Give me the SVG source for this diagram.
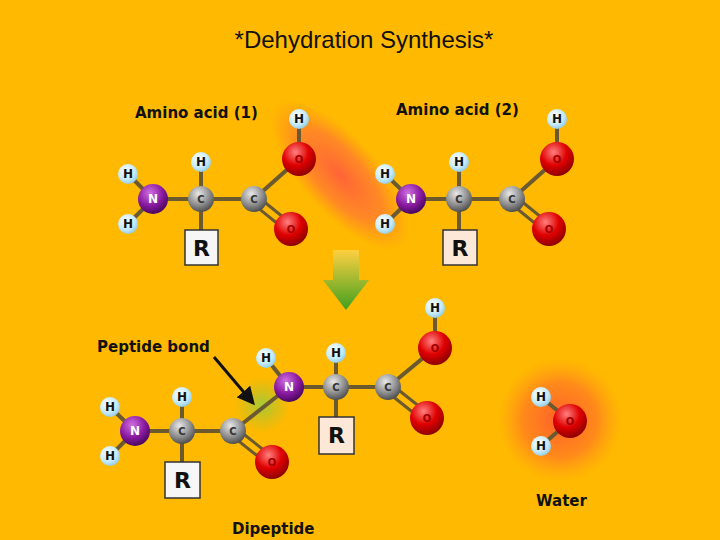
<svg xmlns="http://www.w3.org/2000/svg" width="720" height="540" viewBox="0 0 720 540">
<defs>
<radialGradient id="gH" cx="0.4" cy="0.35" r="0.7"><stop offset="0" stop-color="#ffffff"/><stop offset="0.6" stop-color="#c8ecfa"/><stop offset="1" stop-color="#8cc8e0"/></radialGradient>
<radialGradient id="gN" cx="0.4" cy="0.3" r="0.7"><stop offset="0" stop-color="#d070e0"/><stop offset="0.6" stop-color="#8a1aa0"/><stop offset="1" stop-color="#4a0860"/></radialGradient>
<radialGradient id="gC" cx="0.4" cy="0.3" r="0.7"><stop offset="0" stop-color="#e8e8e8"/><stop offset="0.6" stop-color="#909090"/><stop offset="1" stop-color="#505050"/></radialGradient>
<radialGradient id="gO" cx="0.4" cy="0.3" r="0.7"><stop offset="0" stop-color="#ff8080"/><stop offset="0.55" stop-color="#e00000"/><stop offset="1" stop-color="#900000"/></radialGradient>
<radialGradient id="glowR"><stop offset="0" stop-color="#ff5a3c" stop-opacity="0.9"/><stop offset="0.6" stop-color="#ff6a3c" stop-opacity="0.6"/><stop offset="1" stop-color="#ff7a30" stop-opacity="0"/></radialGradient>
<radialGradient id="glowW"><stop offset="0" stop-color="#ff5a2c" stop-opacity="0.95"/><stop offset="0.6" stop-color="#ff6a2c" stop-opacity="0.6"/><stop offset="1" stop-color="#ff8a20" stop-opacity="0"/></radialGradient>
<radialGradient id="glowG"><stop offset="0" stop-color="#9ccc3c" stop-opacity="0.9"/><stop offset="1" stop-color="#b0c030" stop-opacity="0"/></radialGradient>
<linearGradient id="gArr" x1="0" y1="0" x2="0" y2="1"><stop offset="0" stop-color="#ffd040"/><stop offset="1" stop-color="#40a020"/></linearGradient>
<marker id="ah" markerWidth="6" markerHeight="6" refX="5" refY="3" orient="auto" markerUnits="strokeWidth"><path d="M0,0 L6,3 L0,6 Z" fill="#111"/></marker>
</defs>
<style>
.b{stroke:#6b5a30;stroke-width:4;fill:none}
.d{stroke:#6b5a30;stroke-width:3;fill:none}
.H{fill:url(#gH)}.N{fill:url(#gN)}.C{fill:url(#gC)}.O{fill:url(#gO)}
.t{font-family:"DejaVu Sans",sans-serif;font-weight:bold;font-size:12px;text-anchor:middle;dominant-baseline:central}
.tH{fill:#111}.tN{fill:#fff}.tC{fill:#333;font-size:10px}.tO{fill:#a00000;font-size:10px}
.lab{font-family:"DejaVu Sans",sans-serif;font-weight:bold;font-size:15px;fill:#111}
.R{fill:#f6f6f6;stroke:#333;stroke-width:1.5}
.Rt{font-family:"DejaVu Sans",sans-serif;font-weight:bold;font-size:22px;fill:#111;text-anchor:middle;dominant-baseline:central}
</style>
<rect width="720" height="540" fill="#ffb900"/>
<text x="364" y="48" font-family="Liberation Sans,sans-serif" font-size="24" text-anchor="middle" fill="#111">*Dehydration Synthesis*</text>
<ellipse cx="340" cy="175" rx="95" ry="38" transform="rotate(48 340 175)" fill="url(#glowR)"/>
<circle cx="560" cy="420" r="62" fill="url(#glowW)"/>
<circle cx="262" cy="405" r="28" fill="url(#glowG)"/>
<text class="lab" x="135" y="118">Amino acid (1)</text>
<text class="lab" x="396" y="115">Amino acid (2)</text>
<text class="lab" x="97" y="352">Peptide bond</text>
<text class="lab" x="232" y="534">Dipeptide</text>
<text class="lab" x="536" y="506">Water</text>
<path d="M333,250 h26 v30 h10 l-23,30 l-23,-30 h10 z" fill="url(#gArr)"/>
<g id="connectors">
<path class="b" d="M128,174 L153,199 L128,224 M153,199 H254 M201,162 V230 M254,199 L299,159 V119"/>
<path class="d" d="M252,203 L289,233 M257,196 L294,226"/>
<path class="b" d="M385,174 L411,199 L385,224 M411,199 H512 M459,162 V230 M512,199 L557,159 V119"/>
<path class="d" d="M510,203 L547,233 M515,196 L552,226"/>
<path class="b" d="M110,407 L135,431 L110,456 M135,431 H233 M182,397 V462 M233,431 L289,387 L266,358 M289,387 H388 M336,353 V417 M388,387 L435,348 V308"/>
<path class="d" d="M231,435 L270,466 M236,428 L275,459 M386,391 L425,422 M391,384 L430,415"/>
<path class="b" d="M541,397 L570,421 L541,446"/>
<path d="M214,357 L253,403" stroke="#111" stroke-width="3" marker-end="url(#ah)"/>
</g>
<g id="aa1">
<rect class="R" x="185" y="230" width="33" height="35"/><text class="Rt" x="201.5" y="248">R</text>
<circle class="H" cx="128" cy="174" r="10"/><text class="t tH" x="128" y="174">H</text>
<circle class="H" cx="128" cy="224" r="10"/><text class="t tH" x="128" y="224">H</text>
<circle class="H" cx="201" cy="162" r="10"/><text class="t tH" x="201" y="162">H</text>
<circle class="H" cx="299" cy="119" r="10"/><text class="t tH" x="299" y="119">H</text>
<circle class="N" cx="153" cy="199" r="15"/><text class="t tN" x="153" y="199">N</text>
<circle class="C" cx="201" cy="199" r="13"/><text class="t tC" x="201" y="199">C</text>
<circle class="C" cx="254" cy="199" r="13"/><text class="t tC" x="254" y="199">C</text>
<circle class="O" cx="299" cy="159" r="17"/><text class="t tO" x="299" y="159">O</text>
<circle class="O" cx="291" cy="229" r="17"/><text class="t tO" x="291" y="229">O</text>
</g>
<g id="aa2">
<rect class="R" x="443" y="230" width="34" height="35" style="fill:#fde8d8"/><text class="Rt" x="460" y="248">R</text>
<circle class="H" cx="385" cy="174" r="10"/><text class="t tH" x="385" y="174">H</text>
<circle class="H" cx="385" cy="224" r="10"/><text class="t tH" x="385" y="224">H</text>
<circle class="H" cx="459" cy="162" r="10"/><text class="t tH" x="459" y="162">H</text>
<circle class="H" cx="557" cy="119" r="10"/><text class="t tH" x="557" y="119">H</text>
<circle class="N" cx="411" cy="199" r="15"/><text class="t tN" x="411" y="199">N</text>
<circle class="C" cx="459" cy="199" r="13"/><text class="t tC" x="459" y="199">C</text>
<circle class="C" cx="512" cy="199" r="13"/><text class="t tC" x="512" y="199">C</text>
<circle class="O" cx="557" cy="159" r="17"/><text class="t tO" x="557" y="159">O</text>
<circle class="O" cx="549" cy="229" r="17"/><text class="t tO" x="549" y="229">O</text>
</g>
<g id="dipeptide">
<rect class="R" x="165" y="462" width="35" height="36"/><text class="Rt" x="182.5" y="480">R</text>
<rect class="R" x="319" y="417" width="35" height="37" style="fill:#fde8d8"/><text class="Rt" x="336.5" y="435">R</text>
<circle class="H" cx="110" cy="407" r="10"/><text class="t tH" x="110" y="407">H</text>
<circle class="H" cx="110" cy="456" r="10"/><text class="t tH" x="110" y="456">H</text>
<circle class="H" cx="182" cy="397" r="10"/><text class="t tH" x="182" y="397">H</text>
<circle class="H" cx="266" cy="358" r="10"/><text class="t tH" x="266" y="358">H</text>
<circle class="H" cx="336" cy="353" r="10"/><text class="t tH" x="336" y="353">H</text>
<circle class="H" cx="435" cy="308" r="10"/><text class="t tH" x="435" y="308">H</text>
<circle class="N" cx="135" cy="431" r="15"/><text class="t tN" x="135" y="431">N</text>
<circle class="C" cx="182" cy="431" r="13"/><text class="t tC" x="182" y="431">C</text>
<circle class="C" cx="233" cy="431" r="13"/><text class="t tC" x="233" y="431">C</text>
<circle class="O" cx="272" cy="462" r="17"/><text class="t tO" x="272" y="462">O</text>
<circle class="N" cx="289" cy="387" r="15"/><text class="t tN" x="289" y="387">N</text>
<circle class="C" cx="336" cy="387" r="13"/><text class="t tC" x="336" y="387">C</text>
<circle class="C" cx="388" cy="387" r="13"/><text class="t tC" x="388" y="387">C</text>
<circle class="O" cx="435" cy="348" r="17"/><text class="t tO" x="435" y="348">O</text>
<circle class="O" cx="427" cy="418" r="17"/><text class="t tO" x="427" y="418">O</text>
</g>
<g id="water">
<circle class="H" cx="541" cy="397" r="10"/><text class="t tH" x="541" y="397">H</text>
<circle class="H" cx="541" cy="446" r="10"/><text class="t tH" x="541" y="446">H</text>
<circle class="O" cx="570" cy="421" r="17"/><text class="t tO" x="570" y="421">O</text>
</g>
</svg>
